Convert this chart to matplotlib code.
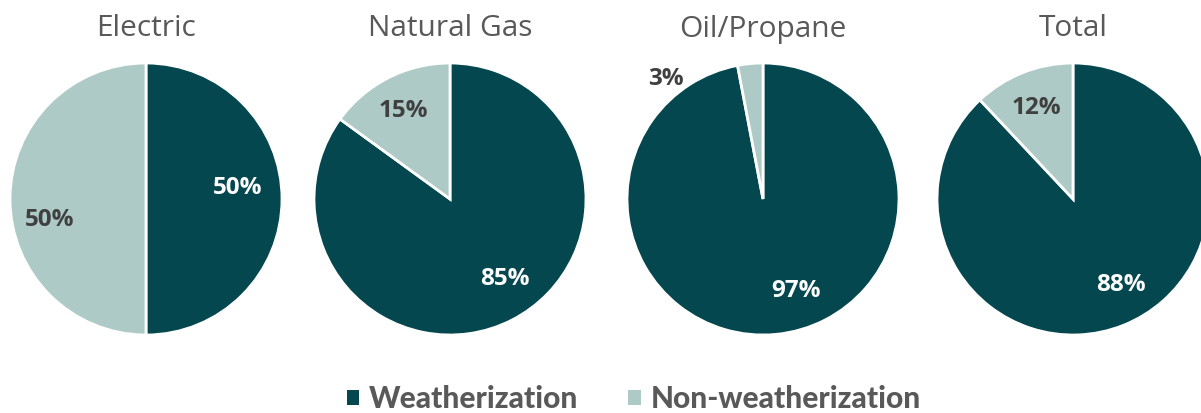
import matplotlib
matplotlib.use("Agg")
import matplotlib.pyplot as plt
from matplotlib.patches import Patch
import numpy as np

# share of savings by fuel type
fuels = ["Electric", "Natural Gas", "Oil/Propane", "Total"]
weatherization = [50, 85, 97, 88]
non_weatherization = [50, 15, 3, 12]
series_names = ["Weatherization", "Non-weatherization"]

dark, light = "#04474F", "#AECAC6"
grey = "#595959"

W, H = 1201, 413
centers_x = [146, 450, 763, 1073]
center_y = H - 199
radius = 136

# where each percentage sits: (angle in degrees, fraction of radius)
label_pos = [
    [(8.5, 0.68), (191, 0.72)],
    [(-54.5, 0.70), (117, 0.75)],
    [(-70, 0.70), (128.5, 1.15)],
    [(-60, 0.71), (111.5, 0.74)],
]

fig = plt.figure(figsize=(W / 100, H / 100), dpi=100)
ax = fig.add_axes([0, 0, 1, 1])
ax.set_xlim(0, W)
ax.set_ylim(0, H)
ax.set_aspect("equal")
ax.axis("off")

for i, name in enumerate(fuels):
    cx = centers_x[i]
    vals = [weatherization[i], non_weatherization[i]]
    ax.pie(vals, colors=[dark, light], startangle=90, counterclock=False,
           center=(cx, center_y), radius=radius,
           wedgeprops=dict(edgecolor="white", linewidth=2))
    for j, v in enumerate(vals):
        ang, frac = label_pos[i][j]
        a = np.deg2rad(ang)
        x = cx + frac * radius * np.cos(a)
        y = center_y + frac * radius * np.sin(a) - 2.5
        col = "white" if j == 0 else "#404040"
        ax.text(x, y, "%d%%" % v, ha="center", va="center", fontsize=17.5,
                fontweight="bold", color=col, family="Open Sans")
    ax.text(cx, H - 29, name, ha="center", va="center", fontsize=21.5,
            color=grey, family="Open Sans")

ax.set_xlim(0, W)
ax.set_ylim(0, H)

handles = [Patch(facecolor=dark, edgecolor="none"),
           Patch(facecolor=light, edgecolor="none")]
leg = fig.legend(handles, series_names, loc="center", bbox_to_anchor=(634 / W, 1 - 399 / H),
                 ncol=2, frameon=False, handlelength=0.43, handleheight=0.43,
                 handletextpad=0.33, columnspacing=1.67,
                 prop=dict(family="Lato", weight="black", size=21.5))
for t in leg.get_texts():
    t.set_color(grey)

fig.savefig("out.png", dpi=100)
